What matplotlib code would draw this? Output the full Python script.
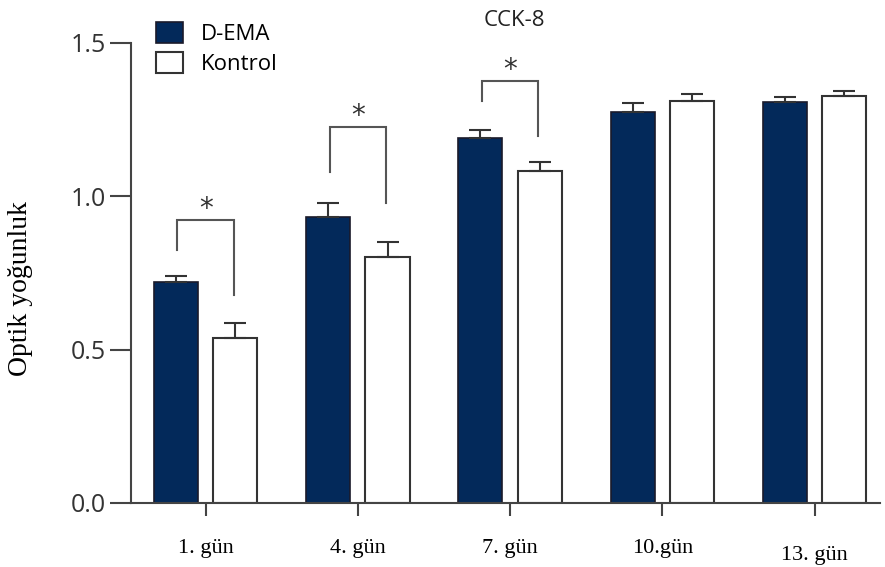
import matplotlib
matplotlib.use("Agg")
import matplotlib.pyplot as plt
import matplotlib.transforms as mtransforms
from matplotlib.patches import Patch
import numpy as np

# ---- data ----
days = ["1. gün", "4. gün", "7. gün", "10.gün", "13. gün"]
dema_values = [0.72, 0.932, 1.19, 1.275, 1.307]
dema_err = [0.02, 0.045, 0.025, 0.03, 0.018]
kontrol_values = [0.538, 0.802, 1.083, 1.31, 1.327]
kontrol_err = [0.05, 0.05, 0.028, 0.025, 0.017]
# significance brackets: group index, left start, top, right end
sig_groups = [0, 1, 2]
sig_left_low = [0.825, 1.079, 1.311]
sig_top = [0.923, 1.226, 1.376]
sig_right_low = [0.678, 0.978, 1.197]

navy = "#03295a"
edge = "#333333"
gray = "#555555"

fig = plt.figure(figsize=(8.85, 5.67), dpi=100)
ax = fig.add_axes([131/885, 64/567, 749/885, 460/567])

x = np.arange(len(days))
off = 0.195
w = 0.29
ax.bar(x - off, dema_values, width=w, color=navy, edgecolor="#1a1a2a", linewidth=1.2,
       yerr=[np.zeros(len(x)), dema_err], capsize=8,
       error_kw=dict(ecolor=edge, elinewidth=1.5, capthick=1.5), zorder=2)
ax.bar(x + off, kontrol_values, width=w, color="white", edgecolor=edge, linewidth=1.5,
       yerr=[np.zeros(len(x)), kontrol_err], capsize=8,
       error_kw=dict(ecolor=edge, elinewidth=1.5, capthick=1.5), zorder=2)

for g, lo, top, ro in zip(sig_groups, sig_left_low, sig_top, sig_right_low):
    xl = g - off + 0.01
    xr = g + off - 0.01
    ax.plot([xl, xl, xr, xr], [lo, top, top, ro], color=gray, lw=1.5,
            solid_joinstyle="miter", zorder=3)
    ax.text(g + 0.0, top + 0.035, "*", ha="center", va="center", fontsize=20,
            color="#333333", family="DejaVu Sans")

ax.set_xlim(-0.49, 4.43)
ax.set_ylim(0, 1.5)
ax.set_yticks([0.0, 0.5, 1.0, 1.5])
ax.set_yticklabels(["0.0", "0.5", "1.0", "1.5"], family="Open Sans", fontsize=18,
                   color="#333333")
ax.set_xticks(x)
ax.set_xticklabels(days, family="Liberation Serif", fontsize=16)

ax.tick_params(axis="y", length=15, width=1.5, color="#444444", pad=3, direction="out")
ax.tick_params(axis="x", length=9, width=1.5, color="#444444", pad=17, direction="out")

for s in ["top", "right"]:
    ax.spines[s].set_visible(False)
for s in ["left", "bottom"]:
    ax.spines[s].set_linewidth(1.5)
    ax.spines[s].set_color("#444444")

# last tick label slightly lower
lbl = ax.get_xticklabels()[-1]
lbl.set_transform(lbl.get_transform() +
                  mtransforms.ScaledTranslation(0, -7/100, fig.dpi_scale_trans))

ax.set_ylabel("Optik yoğunluk", family="Liberation Serif", fontsize=20)
ax.yaxis.set_label_coords(-0.131, 0.467)

fig.text(514/885, 1 - 21/567, "CCK-8", ha="center", va="center",
         family="Open Sans", fontsize=16, color="#222222")

handles = [Patch(facecolor=navy, edgecolor="#1a1a2a", linewidth=1.2, label="D-EMA"),
           Patch(facecolor="white", edgecolor=edge, linewidth=1.5, label="Kontrol")]
leg = fig.legend(handles=handles, loc="upper left", bbox_to_anchor=(136/885, 1 - 2/567),
                 frameon=False, handlelength=1.2, handleheight=1.1, handletextpad=0.8,
                 labelspacing=0.3, prop=dict(family="Open Sans", size=16))

fig.savefig("out.png", dpi=100)
